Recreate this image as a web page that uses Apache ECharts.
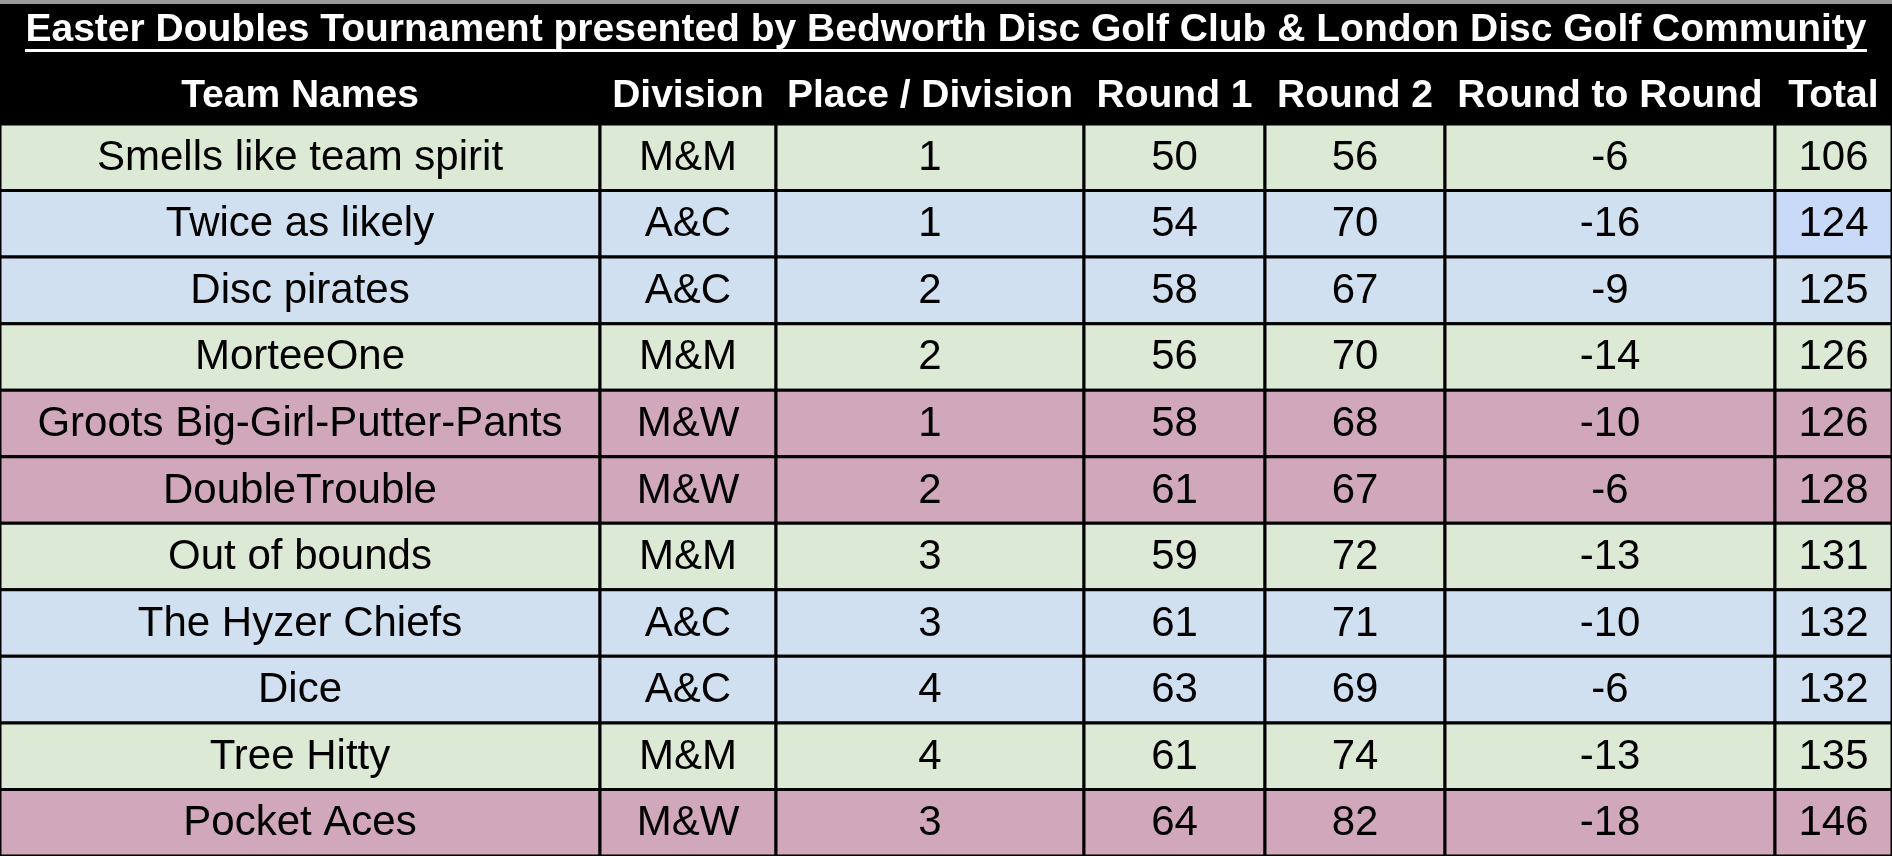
<!DOCTYPE html>
<html>
<head>
<meta charset="utf-8">
<script src="https://cdn.jsdelivr.net/npm/echarts@6/dist/echarts.min.js"></script>
<style>
  html, body { margin: 0; padding: 0; background: #000; }
  #chart { width: 1892px; height: 856px; }
</style>
</head>
<body>
<div id="chart"></div>
<script>
// Table data
var title = 'Easter Doubles Tournament presented by Bedworth Disc Golf Club & London Disc Golf Community';
var headers = ['Team Names', 'Division', 'Place / Division', 'Round 1', 'Round 2', 'Round to Round', 'Total'];
var teams = ['Smells like team spirit', 'Twice as likely', 'Disc pirates', 'MorteeOne', 'Groots Big-Girl-Putter-Pants',
    'DoubleTrouble', 'Out of bounds', 'The Hyzer Chiefs', 'Dice', 'Tree Hitty', 'Pocket Aces'];
var divisions = ['M&M', 'A&C', 'A&C', 'M&M', 'M&W', 'M&W', 'M&M', 'A&C', 'A&C', 'M&M', 'M&W'];
var places = [1, 1, 2, 2, 1, 2, 3, 3, 4, 4, 3];
var round1 = [50, 54, 58, 56, 58, 61, 59, 61, 63, 61, 64];
var round2 = [56, 70, 67, 70, 68, 67, 72, 71, 69, 74, 82];
var diffs = [-6, -16, -9, -14, -10, -6, -13, -10, -6, -13, -18];
var totals = [106, 124, 125, 126, 126, 128, 131, 132, 132, 135, 146];

// Column edges in pixels and division colours
var colEdges = [0, 600, 776, 1084, 1265, 1445, 1775, 1892];
var divColor = { 'M&M': '#dce9d5', 'A&C': '#d0e0f0', 'M&W': '#d1a7bc' };

var cells = [];
teams.forEach(function (t, i) {
    var vals = [t, divisions[i], places[i], round1[i], round2[i], diffs[i], totals[i]];
    vals.forEach(function (v, c) {
        var color = divColor[divisions[i]];
        if (c === 6 && i === 1) color = '#c9daf8';
        cells.push({ value: [c, i], label: String(v), color: color });
    });
});

var chart = echarts.init(document.getElementById('chart'));

var graphics = [
    { type: 'rect', shape: { x: 0, y: 0, width: 1892, height: 4 }, style: { fill: '#9a9a9a' } },
    { type: 'text', x: 946, y: 30, style: { text: title, fill: '#fff', font: 'bold 39px "Liberation Sans", Arial, sans-serif', align: 'center', verticalAlign: 'middle' } },
    { type: 'rect', shape: { x: 25, y: 49, width: 1842, height: 3 }, style: { fill: '#fff' } }
];
headers.forEach(function (h, c) {
    graphics.push({
        type: 'text',
        x: (colEdges[c] + colEdges[c + 1]) / 2,
        y: 96,
        style: { text: h, fill: '#fff', font: 'bold 39px "Liberation Sans", Arial, sans-serif', align: 'center', verticalAlign: 'middle' }
    });
});

var option = {
    backgroundColor: '#000',
    animation: false,
    grid: { left: 0, right: 0, top: 124, bottom: 0 },
    xAxis: { type: 'value', min: 0, max: 7, show: false },
    yAxis: { type: 'category', data: teams, inverse: true, show: false },
    graphic: graphics,
    series: [{
        type: 'custom',
        data: cells,
        renderItem: function (params, api) {
            var c = api.value(0);
            var center = api.coord([0, api.value(1)]);
            var h = api.size([0, 1])[1];
            var item = cells[params.dataIndex];
            var x0 = colEdges[c], x1 = colEdges[c + 1];
            return {
                type: 'group',
                children: [{
                    type: 'rect',
                    shape: { x: x0, y: center[1] - h / 2, width: x1 - x0, height: h },
                    style: { fill: item.color, stroke: '#000', lineWidth: 3 }
                }, {
                    type: 'text',
                    x: (x0 + x1) / 2,
                    y: center[1] + 1,
                    style: { text: item.label, fill: '#000', font: '42px "Liberation Sans", Arial, sans-serif', align: 'center', verticalAlign: 'middle' }
                }]
            };
        }
    }]
};
chart.setOption(option);
</script>
</body>
</html>
